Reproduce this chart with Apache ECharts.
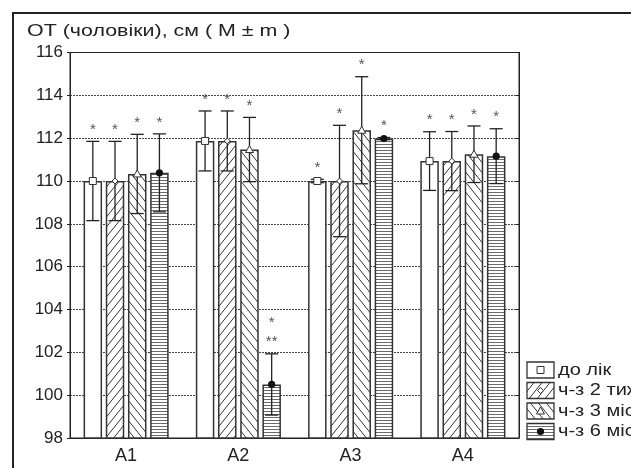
<!DOCTYPE html>
<html>
<head>
<meta charset="UTF-8">
<title></title>
<script src="https://cdn.jsdelivr.net/npm/echarts@6/dist/echarts.min.js"></script>
<style>
    html, body { margin: 0; padding: 0; background: #fff; }
</style>
</head>
<body>
<div id="chart1" style="width: 631px;height: 468px;"></div>
<script type="text/javascript">
    // дані
    var categories = ['A1', 'A2', 'A3', 'A4'];
    var seriesNames = ['до лік', 'ч-з 2 тиж', 'ч-з 3 міс', 'ч-з 6 міс'];
    var mean0 = [110.0, 111.87, 110.0, 110.93];
    var err0 = [1.85, 1.4, 0.08, 1.37];
    var mean1 = [110.0, 111.87, 110.0, 110.93];
    var err1 = [1.85, 1.4, 2.6, 1.38];
    var mean2 = [110.33, 111.47, 112.37, 111.25];
    var err2 = [1.85, 1.5, 2.5, 1.32];
    var mean3 = [110.38, 100.5, 111.98, 111.16];
    var err3 = [1.82, 1.43, 0.05, 1.28];
    var stars0 = ['*', '*', '*', '*'];
    var stars1 = ['*', '*', '*', '*'];
    var stars2 = ['*', '*', '*', '*'];
    var stars3 = ['*', '*\n**', '*', '*'];
    var yTicks = [98, 116, 2];

    var means = [mean0, mean1, mean2, mean3];
    var errs = [err0, err1, err2, err3];
    var stars = [stars0, stars1, stars2, stars3];

    var FONT = 'Liberation Sans, Arial, sans-serif';
    var BAR_W = 18.5;
    var BAR_GAP = 0.2;

    // візерунки заливки
    function makePattern(kind) {
        var c = document.createElement('canvas');
        var ctx;
        if (kind === 'none') {
            c.width = 4; c.height = 4;
            ctx = c.getContext('2d');
            ctx.fillStyle = '#fff';
            ctx.fillRect(0, 0, 4, 4);
            return c;
        }
        if (kind === 'hline') {
            c.width = 4; c.height = 3;
            ctx = c.getContext('2d');
            ctx.fillStyle = '#fff';
            ctx.fillRect(0, 0, 4, 3);
            ctx.fillStyle = '#6a6a6a';
            ctx.fillRect(0, 0, 4, 1);
            return c;
        }
        var w = 8, h = 10;
        c.width = w; c.height = h;
        ctx = c.getContext('2d');
        ctx.fillStyle = '#fff';
        ctx.fillRect(0, 0, w, h);
        ctx.strokeStyle = '#333';
        ctx.lineWidth = 1;
        ctx.beginPath();
        if (kind === 'fwd') {
            ctx.moveTo(-w, 2 * h); ctx.lineTo(2 * w, -h);
            ctx.moveTo(-2 * w, 2 * h); ctx.lineTo(w, -h);
            ctx.moveTo(0, 2 * h); ctx.lineTo(3 * w, -h);
        } else {
            ctx.moveTo(-w, -h); ctx.lineTo(2 * w, 2 * h);
            ctx.moveTo(-2 * w, -h); ctx.lineTo(w, 2 * h);
            ctx.moveTo(0, -h); ctx.lineTo(3 * w, 2 * h);
        }
        ctx.stroke();
        return c;
    }
    var patterns = [makePattern('none'), makePattern('fwd'), makePattern('back'), makePattern('hline')];

    function marker(kind, x, y) {
        if (kind === 0) {
            return { type: 'rect', shape: { x: x - 3.5, y: y - 3.5, width: 7, height: 7 },
                style: { fill: '#fff', stroke: '#333', lineWidth: 1 } };
        }
        if (kind === 1) {
            return { type: 'polygon', shape: { points: [[x, y - 3], [x + 3, y], [x, y + 3], [x - 3, y]] },
                style: { fill: '#fff', stroke: '#333', lineWidth: 1 } };
        }
        if (kind === 2) {
            return { type: 'polygon', shape: { points: [[x, y - 4], [x + 4, y + 3], [x - 4, y + 3]] },
                style: { fill: '#fff', stroke: '#333', lineWidth: 1 } };
        }
        return { type: 'circle', shape: { cx: x, cy: y, r: 3.6 }, style: { fill: '#111' } };
    }

    var series = [];
    for (var s = 0; s < 4; s++) {
        series.push({
            type: 'bar',
            name: seriesNames[s],
            data: means[s],
            barWidth: BAR_W,
            barGap: (BAR_GAP * 100) + '%',
            itemStyle: {
                color: { image: patterns[s], repeat: 'repeat' },
                borderColor: '#333',
                borderWidth: 1.5
            },
            emphasis: { disabled: true },
            animation: false
        });
    }
    for (var k = 0; k < 4; k++) {
        (function (si) {
            var data = [];
            for (var i = 0; i < categories.length; i++) {
                data.push([i, means[si][i], errs[si][i]]);
            }
            series.push({
                type: 'custom',
                name: seriesNames[si] + ' m',
                data: data,
                encode: { x: 0, y: 1 },
                z: 5,
                silent: true,
                animation: false,
                renderItem: function (params, api) {
                    var i = api.value(0), m = api.value(1), e = api.value(2);
                    var off = (si - 1.5) * BAR_W * (1 + BAR_GAP);
                    var pm = api.coord([i, m]);
                    var pt = api.coord([i, m + e]);
                    var pb = api.coord([i, m - e]);
                    var x = pm[0] + off;
                    var cap = 6.5;
                    var lineStyle = { stroke: '#222', lineWidth: 1.3 };
                    var st = stars[si][params.dataIndex];
                    return {
                        type: 'group',
                        children: [
                            { type: 'line', shape: { x1: x, y1: pt[1], x2: x, y2: pb[1] }, style: lineStyle },
                            { type: 'line', shape: { x1: x - cap, y1: pt[1], x2: x + cap, y2: pt[1] }, style: lineStyle },
                            { type: 'line', shape: { x1: x - cap, y1: pb[1], x2: x + cap, y2: pb[1] }, style: lineStyle },
                            marker(si, x, pm[1]),
                            { type: 'text', x: x, y: pt[1] - 2,
                                style: { text: st, fill: '#555', font: '15px ' + FONT, align: 'center',
                                    verticalAlign: 'bottom', lineHeight: 19 } }
                        ]
                    };
                }
            });
        })(k);
    }

    // заголовок, легенда, рамка
    var extras = [];
    extras.push({ type: 'text', x: 27, y: 23, scaleX: 1.26,
        style: { text: 'ОТ (чоловіки), см ( M ± m )', fill: '#222', font: '17px ' + FONT, verticalAlign: 'top' } });
    for (var j = 0; j < 4; j++) {
        var ly = 362 + j * 20.5;
        extras.push({ type: 'rect', shape: { x: 527, y: ly, width: 27, height: 16 },
            style: { fill: { image: patterns[j], repeat: 'repeat' }, stroke: '#333', lineWidth: 1.3 } });
        extras.push(marker(j, 540.5, ly + 8));
        extras.push({ type: 'text', x: 558, y: ly + 8.5, scaleX: 1.25,
            style: { text: seriesNames[j], fill: '#222', font: '16px ' + FONT, verticalAlign: 'middle' } });
    }
    extras.push({ type: 'polyline', shape: { points: [[13, 468], [13, 13], [631, 13]] },
        style: { stroke: '#222', lineWidth: 2, fill: null } });

    var chart1 = echarts.init(document.getElementById('chart1'));
    var option = {
        backgroundColor: '#fff',
        animation: false,
        grid: { left: 70, right: 112, top: 52.5, bottom: 30, show: true, borderColor: '#222', borderWidth: 1 },
        xAxis: [
            {
                type: 'category', data: categories, position: 'bottom',
                axisLine: { lineStyle: { color: '#222' } },
                axisTick: { alignWithLabel: true, inside: true, length: 3, lineStyle: { color: '#222' } },
                axisLabel: { fontFamily: FONT, fontSize: 18, color: '#222', margin: 9 }
            },
            {
                type: 'category', data: categories, position: 'top',
                axisLine: { lineStyle: { color: '#222' } },
                axisTick: { alignWithLabel: true, inside: true, length: 3, lineStyle: { color: '#222' } },
                axisLabel: { show: false }
            }
        ],
        yAxis: [
            {
                type: 'value', min: yTicks[0], max: yTicks[1], interval: yTicks[2], position: 'left',
                axisLine: { show: true, lineStyle: { color: '#222' } },
                axisTick: { show: true, length: 3, lineStyle: { color: '#222' } },
                axisLabel: { fontFamily: FONT, fontSize: 17, color: '#222', margin: 7 },
                splitLine: { show: true, lineStyle: { color: '#444', type: [2, 1], width: 1 } }
            },
            {
                type: 'value', min: yTicks[0], max: yTicks[1], interval: yTicks[2], position: 'right',
                axisLine: { show: true, lineStyle: { color: '#222' } },
                axisTick: { show: true, inside: true, length: 3, lineStyle: { color: '#222' } },
                axisLabel: { show: false },
                splitLine: { show: false }
            }
        ],
        graphic: extras,
        series: series
    };
    chart1.setOption(option);
</script>
</body>
</html>
